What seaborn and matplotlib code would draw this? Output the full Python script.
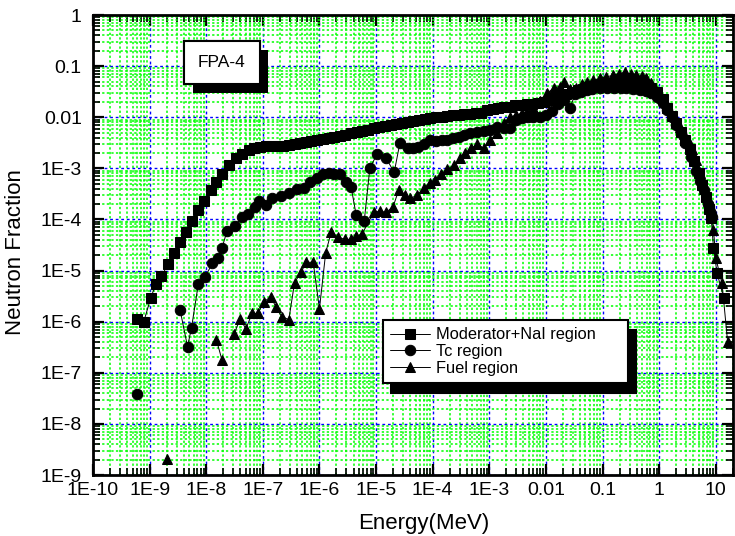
import numpy as np
import pandas as pd
import seaborn as sns
import matplotlib
matplotlib.use("Agg")
import matplotlib.pyplot as plt
from matplotlib import patheffects
from matplotlib.ticker import LogLocator, NullFormatter

# Moderator+NaI region (squares)
mod_energy = [5.9e-10, 7.9e-10, 1.05e-9, 1.29e-9, 1.62e-9, 2.14e-9, 2.75e-9, 3.47e-9, 4.47e-9, 5.62e-9,
              7.24e-9, 9.12e-9, 1.23e-8, 1.51e-8, 1.91e-8, 2.51e-8, 3.39e-8, 4.27e-8, 5.62e-8, 7.08e-8,
              8.91e-8, 1.12e-7, 1.45e-7, 1.82e-7, 2.29e-7, 2.88e-7, 3.63e-7, 4.57e-7, 5.75e-7, 7.24e-7,
              9.12e-7, 1.15e-6, 1.45e-6, 1.82e-6, 2.29e-6, 2.88e-6, 3.63e-6, 4.57e-6, 5.75e-6, 7.24e-6,
              9.12e-6, 1.15e-5, 1.45e-5, 1.82e-5, 2.29e-5, 2.88e-5, 3.63e-5, 4.57e-5, 5.75e-5, 7.24e-5,
              9.12e-5, 1.15e-4, 1.45e-4, 1.82e-4, 2.29e-4, 2.88e-4, 3.63e-4, 4.57e-4, 5.75e-4, 7.24e-4,
              9.12e-4, 1.15e-3, 1.45e-3, 1.82e-3, 2.29e-3, 2.88e-3, 3.63e-3, 4.57e-3, 5.75e-3, 7.24e-3,
              9.12e-3, 1.15e-2, 1.45e-2, 1.82e-2, 2.29e-2, 2.88e-2, 3.63e-2, 4.57e-2, 5.75e-2, 7.24e-2,
              9.12e-2, 0.115, 0.145, 0.182, 0.229, 0.288, 0.363, 0.457, 0.575, 0.724,
              0.912, 1.15, 1.38, 1.66, 2.0, 2.4, 2.88, 3.47, 4.17, 5.01,
              5.75, 6.61, 7.59, 8.32, 9.12, 10.5, 13.8]
mod_frac = [1.15e-6, 1.0e-6, 2.95e-6, 5.37e-6, 7.94e-6, 1.32e-5, 2.24e-5, 3.55e-5, 5.75e-5, 9.12e-5,
            1.51e-4, 2.34e-4, 3.72e-4, 5.37e-4, 7.59e-4, 1.15e-3, 1.58e-3, 1.95e-3, 2.24e-3, 2.45e-3,
            2.63e-3, 2.69e-3, 2.75e-3, 2.69e-3, 2.75e-3, 2.82e-3, 2.95e-3, 3.09e-3, 3.24e-3, 3.39e-3,
            3.55e-3, 3.80e-3, 3.98e-3, 4.17e-3, 4.37e-3, 4.57e-3, 4.90e-3, 5.13e-3, 5.37e-3, 5.62e-3,
            6.03e-3, 6.31e-3, 6.61e-3, 6.92e-3, 7.24e-3, 7.59e-3, 7.94e-3, 8.32e-3, 8.71e-3, 9.12e-3,
            9.55e-3, 1.0e-2, 1.02e-2, 1.07e-2, 1.10e-2, 1.12e-2, 1.15e-2, 1.17e-2, 1.20e-2, 1.20e-2,
            1.41e-2, 1.48e-2, 1.51e-2, 1.58e-2, 1.62e-2, 1.70e-2, 1.74e-2, 1.78e-2, 1.82e-2, 1.86e-2,
            1.95e-2, 2.14e-2, 2.34e-2, 2.57e-2, 2.82e-2, 3.09e-2, 3.39e-2, 3.63e-2, 3.89e-2, 4.07e-2,
            4.27e-2, 4.47e-2, 4.68e-2, 4.79e-2, 4.90e-2, 4.90e-2, 4.79e-2, 4.68e-2, 4.27e-2, 3.72e-2,
            3.09e-2, 2.24e-2, 1.51e-2, 1.05e-2, 7.59e-3, 5.25e-3, 3.55e-3, 2.40e-3, 1.41e-3, 7.94e-4,
            4.79e-4, 2.69e-4, 1.58e-4, 1.05e-4, 2.82e-5, 9.12e-6, 2.95e-6]
mod_segment = [0] * len(mod_energy)

# Tc region (circles)
tc_energy = [5.9e-10, 3.47e-9, 4.68e-9, 5.50e-9, 7.24e-9, 9.55e-9, 1.29e-8, 1.62e-8, 1.91e-8, 2.34e-8,
             3.24e-8, 4.27e-8, 5.50e-8, 7.24e-8, 8.51e-8, 1.12e-7, 1.45e-7, 2.09e-7, 2.88e-7, 3.98e-7,
             5.25e-7, 6.92e-7, 8.91e-7, 1.15e-6, 1.45e-6, 1.82e-6, 2.34e-6, 2.95e-6, 3.63e-6, 4.47e-6,
             6.17e-6, 7.76e-6, 1.05e-5, 1.51e-5, 2.09e-5, 2.63e-5, 3.63e-5, 4.57e-5, 5.50e-5, 7.08e-5,
             9.12e-5, 1.15e-4, 1.45e-4, 1.82e-4, 2.29e-4, 2.88e-4, 3.63e-4, 4.57e-4, 6.17e-4, 7.94e-4,
             1.05e-3, 1.38e-3, 1.82e-3, 2.34e-3, 3.02e-3, 3.80e-3, 4.79e-3, 6.03e-3, 7.76e-3, 1.0e-2,
             1.26e-2, 1.66e-2, 2.09e-2, 2.63e-2, 3.31e-2, 4.17e-2, 5.25e-2, 6.61e-2, 8.91e-2, 0.120,
             0.158, 0.209, 0.263, 0.347, 0.457, 0.575, 0.724, 0.912, 1.15, 1.38,
             1.66, 2.0, 2.40, 2.88, 3.63, 4.57, 5.25, 6.17, 7.24, 8.51]
tc_frac = [3.9e-8, 1.66e-6, 3.24e-7, 7.59e-7, 5.37e-6, 7.59e-6, 1.38e-5, 1.78e-5, 2.82e-5, 6.03e-5,
           7.59e-5, 1.10e-4, 1.26e-4, 1.78e-4, 2.34e-4, 1.95e-4, 2.57e-4, 2.82e-4, 3.24e-4, 3.89e-4,
           4.07e-4, 5.37e-4, 6.61e-4, 7.59e-4, 7.94e-4, 7.76e-4, 7.59e-4, 5.37e-4, 4.27e-4, 1.20e-4,
           9.12e-5, 1.0e-3, 1.95e-3, 1.58e-3, 8.32e-4, 3.09e-3, 2.45e-3, 2.51e-3, 2.57e-3, 3.02e-3,
           3.55e-3, 3.47e-3, 3.63e-3, 3.55e-3, 3.89e-3, 4.17e-3, 4.47e-3, 4.90e-3, 5.13e-3, 5.37e-3,
           5.75e-3, 6.31e-3, 6.17e-3, 6.03e-3, 8.91e-3, 9.55e-3, 1.0e-2, 1.02e-2, 1.0e-2, 1.10e-2,
           1.32e-2, 1.78e-2, 2.19e-2, 1.51e-2, 2.82e-2, 3.16e-2, 3.39e-2, 3.55e-2, 3.80e-2, 3.80e-2,
           3.72e-2, 3.72e-2, 3.72e-2, 3.63e-2, 3.47e-2, 3.31e-2, 3.02e-2, 2.51e-2, 1.91e-2, 1.38e-2,
           1.0e-2, 7.08e-3, 5.01e-3, 3.16e-3, 1.66e-3, 8.91e-4, 5.62e-4, 3.72e-4, 2.0e-4, 1.10e-4]
tc_segment = [0] + [1] * (len(tc_energy) - 1)

# Fuel region (triangles)
fuel_energy = [2.0e-9, 1.51e-8, 1.91e-8, 3.09e-8, 3.98e-8, 5.01e-8, 6.46e-8, 8.13e-8, 1.05e-7, 1.38e-7,
               1.70e-7, 2.14e-7, 2.88e-7, 3.63e-7, 4.79e-7, 5.89e-7, 7.76e-7, 1.0e-6, 1.29e-6, 1.62e-6,
               2.09e-6, 2.88e-6, 3.63e-6, 4.47e-6, 5.62e-6, 9.12e-6, 1.17e-5, 1.51e-5, 2.0e-5, 2.51e-5,
               3.24e-5, 3.98e-5, 5.25e-5, 6.92e-5, 8.91e-5, 1.10e-4, 1.38e-4, 1.82e-4, 2.34e-4, 3.09e-4,
               3.80e-4, 4.79e-4, 6.17e-4, 8.13e-4, 1.05e-3, 1.38e-3, 1.82e-3, 2.34e-3, 3.02e-3, 3.80e-3,
               4.68e-3, 6.03e-3, 7.94e-3, 1.05e-2, 1.38e-2, 1.74e-2, 2.09e-2, 2.63e-2, 3.47e-2, 4.37e-2,
               5.25e-2, 6.92e-2, 8.91e-2, 0.117, 0.155, 0.195, 0.245, 0.316, 0.398, 0.490,
               0.589, 0.724, 0.891, 1.12, 1.45, 1.82, 2.29, 2.75, 3.24, 3.80,
               4.47, 5.25, 6.31, 7.24, 8.13, 9.12, 10.0, 12.9, 16.2]
fuel_frac = [2.04e-9, 4.47e-7, 1.74e-7, 5.62e-7, 1.15e-6, 7.24e-7, 1.45e-6, 1.45e-6, 2.45e-6, 3.09e-6,
             1.95e-6, 1.26e-6, 1.10e-6, 5.75e-6, 9.55e-6, 1.45e-5, 1.45e-5, 1.78e-6, 2.24e-5, 5.75e-5,
             4.47e-5, 4.07e-5, 4.07e-5, 4.68e-5, 5.13e-5, 1.38e-4, 1.45e-4, 1.38e-4, 1.78e-4, 3.72e-4,
             2.95e-4, 2.57e-4, 2.95e-4, 4.07e-4, 5.13e-4, 6.03e-4, 7.59e-4, 9.55e-4, 1.15e-3, 1.58e-3,
             2.04e-3, 2.45e-3, 2.95e-3, 2.45e-3, 3.55e-3, 4.90e-3, 7.59e-3, 1.0e-2, 1.10e-2, 1.20e-2,
             1.26e-2, 1.51e-2, 2.09e-2, 2.95e-2, 3.72e-2, 3.98e-2, 4.79e-2, 3.55e-2, 3.72e-2, 4.37e-2,
             4.90e-2, 5.25e-2, 5.75e-2, 6.17e-2, 6.61e-2, 7.08e-2, 7.59e-2, 6.92e-2, 6.61e-2, 6.31e-2,
             5.75e-2, 4.68e-2, 3.39e-2, 2.40e-2, 1.58e-2, 1.05e-2, 6.31e-3, 4.68e-3, 3.55e-3, 2.40e-3,
             1.45e-3, 7.94e-4, 3.98e-4, 2.51e-4, 1.74e-4, 6.31e-5, 1.78e-5, 5.62e-6, 4.07e-7]
fuel_segment = [0, 1, 1] + [2] * (len(fuel_energy) - 3)

x_ticks = [1e-10, 1e-9, 1e-8, 1e-7, 1e-6, 1e-5, 1e-4, 1e-3, 1e-2, 1e-1, 1, 10]
x_labels = ['1E-10', '1E-9', '1E-8', '1E-7', '1E-6', '1E-5', '1E-4', '1E-3', '0.01', '0.1', '1', '10']
y_ticks = [1e-9, 1e-8, 1e-7, 1e-6, 1e-5, 1e-4, 1e-3, 1e-2, 1e-1, 1]
y_labels = ['1E-9', '1E-8', '1E-7', '1E-6', '1E-5', '1E-4', '1E-3', '0.01', '0.1', '1']

sns.set_style('ticks')
plt.rcParams['font.family'] = ['Liberation Sans', 'DejaVu Sans']
plt.rcParams['text.color'] = 'black'
plt.rcParams['axes.labelcolor'] = 'black'

fig, ax = plt.subplots(figsize=(7.35, 5.36), dpi=100)
fig.subplots_adjust(left=0.1265, right=0.997, top=0.972, bottom=0.1138)

series = [
    ('Moderator+NaI region', mod_energy, mod_frac, mod_segment, 's', 6.5),
    ('Tc region', tc_energy, tc_frac, tc_segment, 'o', 7.5),
    ('Fuel region', fuel_energy, fuel_frac, fuel_segment, '^', 7.0),
]
for label, xs, ys, seg, mk, ms in series:
    df = pd.DataFrame({'Energy': xs, 'Fraction': ys, 'segment': seg})
    # units splits the line where the original plot leaves a gap
    sns.lineplot(data=df, x='Energy', y='Fraction', units='segment', ax=ax, estimator=None,
                 sort=False, color='black', linewidth=0.7, marker=mk, markersize=ms,
                 markeredgecolor='black', markerfacecolor='black', label=label)

ax.set_xscale('log')
ax.set_yscale('log')
ax.set_xlim(1e-10, 20)
ax.set_ylim(1e-9, 1)

ax.set_xticks(x_ticks)
ax.set_xticklabels(x_labels)
ax.set_yticks(y_ticks)
ax.set_yticklabels(y_labels)
ax.xaxis.set_minor_locator(LogLocator(base=10, subs=np.arange(2, 10), numticks=40))
ax.yaxis.set_minor_locator(LogLocator(base=10, subs=np.arange(2, 10), numticks=40))
ax.xaxis.set_minor_formatter(NullFormatter())
ax.yaxis.set_minor_formatter(NullFormatter())

ax.set_axisbelow(True)
ax.grid(which='minor', color='#00ff00', linestyle=(0, (1.5, 1.5)), linewidth=1.1)
ax.grid(which='major', color='#0000ff', linestyle=(0, (2, 2)), linewidth=1.0)

ax.tick_params(which='both', direction='in', top=True, right=True, labelsize=14, colors='black')
ax.tick_params(which='major', length=8, width=1.6)
ax.tick_params(which='minor', length=5, width=1.2)
ax.tick_params(axis='x', which='major', pad=5)
ax.tick_params(axis='y', which='major', pad=8)
for sp in ax.spines.values():
    sp.set_linewidth(2)
    sp.set_color('black')

ax.set_xlabel('Energy(MeV)', fontsize=16, color='black')
ax.set_ylabel('Neutron Fraction', fontsize=16, color='black')
ax.xaxis.set_label_coords(0.517, -0.082)
ax.yaxis.set_label_coords(-0.104, 0.485)

t = ax.text(0.2016, 0.896, 'FPA-4', transform=ax.transAxes, ha='center', va='center', fontsize=12.5,
            color='black',
            bbox=dict(boxstyle='square,pad=0.8', facecolor='white', edgecolor='black', linewidth=1.5))
t.get_bbox_patch().set_path_effects([
    patheffects.withSimplePatchShadow(offset=(6, -6), shadow_rgbFace='black', alpha=1.0),
    patheffects.Normal()])

handles, labels = ax.get_legend_handles_labels()
uniq = dict(zip(labels, handles))
leg = ax.legend(list(uniq.values()), list(uniq.keys()),
                loc='upper left', bbox_to_anchor=(0.453, 0.2065, 0.383, 0.1304), mode='expand',
                borderaxespad=0, fontsize=11.8, frameon=True, fancybox=False, edgecolor='black',
                framealpha=1, labelcolor='black',
                shadow={'ox': 6, 'oy': -7, 'facecolor': 'black', 'edgecolor': 'black', 'alpha': 1},
                handlelength=2.4, labelspacing=0.1, borderpad=0.45, handletextpad=0.4)
leg.get_frame().set_linewidth(1.5)

fig.savefig('out.png', dpi=100)
